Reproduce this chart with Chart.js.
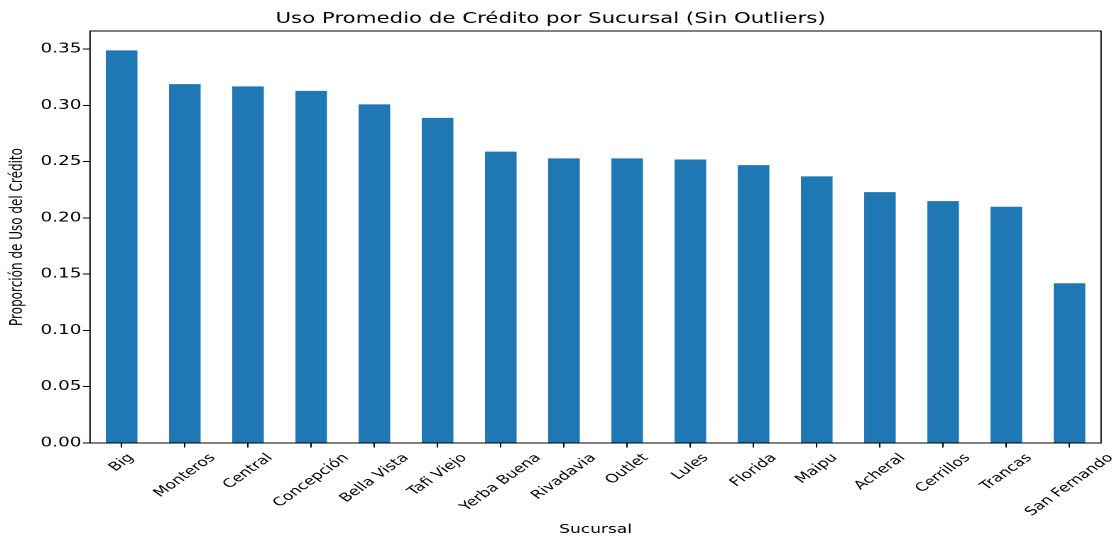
<!DOCTYPE html>
<html>
<head>
<meta charset="utf-8">
<title>Uso Promedio de Crédito por Sucursal</title>
<script src="https://cdn.jsdelivr.net/npm/chart.js"></script>
<style>
    html, body { margin: 0; padding: 0; background: #fff; overflow: hidden; }
    /* the reference is stretched sideways, so the chart is drawn narrow and widened */
    #wrap { position: absolute; left: 0; top: 0; width: 788px; height: 538px; transform: scaleX(1.42005); transform-origin: 0 0; }
</style>
</head>
<body>
<div id="wrap"><canvas id="graph"></canvas></div>
<script>
const sucursales = ["Big", "Monteros", "Central", "Concepción", "Bella Vista", "Tafi Viejo", "Yerba Buena", "Rivadavia",
    "Outlet", "Lules", "Florida", "Maipu", "Acheral", "Cerrillos", "Trancas", "San Fernando"];
const usoCredito = [0.349, 0.319, 0.317, 0.313, 0.301, 0.289, 0.259, 0.253,
    0.253, 0.252, 0.247, 0.237, 0.223, 0.215, 0.210, 0.142];
const yTicks = [0.00, 0.05, 0.10, 0.15, 0.20, 0.25, 0.30, 0.35];

const font = "DejaVu Sans";
const blue = "#1f77b4";
const ink = "#000";

// matplotlib style rotated labels, centred under each tick
const rotatedLabels = {
    id: "rotatedLabels",
    afterDraw(chart)
    {
        const ctx = chart.ctx;
        const x = chart.scales.x;
        ctx.save();
        ctx.font = "12px '" + font + "'";
        ctx.fillStyle = ink;
        ctx.textAlign = "center";
        ctx.textBaseline = "middle";
        const top = x.top + 8;
        for (let i = 0; i < sucursales.length; i++)
        {
            let w = ctx.measureText(sucursales[i]).width;
            let h = 14;
            let cy = top + (w + h) * Math.SQRT1_2 / 2;
            ctx.save();
            ctx.translate(x.getPixelForValue(i), cy);
            ctx.rotate(-Math.PI / 4);
            ctx.fillText(sucursales[i], 0, 0);
            ctx.restore();
        }
        ctx.restore();
    }
};

// box round the plot, all four sides
const frame = {
    id: "frame",
    afterDatasetsDraw(chart)
    {
        const a = chart.chartArea;
        const ctx = chart.ctx;
        ctx.save();
        ctx.strokeStyle = "#000";
        ctx.lineWidth = 1;
        ctx.strokeRect(a.left, a.top, a.right - a.left, a.bottom - a.top);
        ctx.restore();
    }
};

new Chart(document.getElementById("graph"), {
    type: "bar",
    data: {
        labels: sucursales,
        datasets: [
            {
                label: "Proporción de Uso del Crédito",
                data: usoCredito,
                backgroundColor: blue,
                borderWidth: 0,
                categoryPercentage: 1.0,
                barPercentage: 0.5
            }
        ]
    },
    options: {
        responsive: true,
        maintainAspectRatio: false,
        devicePixelRatio: 2,
        animation: false,
        layout: { padding: { left: 0, right: 12.6, top: 0, bottom: 0 } },
        plugins: {
            legend: { display: false },
            tooltip: { enabled: false },
            title: {
                display: true,
                text: "Uso Promedio de Crédito por Sucursal (Sin Outliers)",
                color: ink,
                font: { family: font, size: 15, weight: "normal" },
                padding: { top: 10, bottom: 3 }
            }
        },
        scales: {
            x: {
                offset: true,
                grid: { display: true, drawOnChartArea: false, drawTicks: true, tickLength: 4.5, offset: false, color: "#000" },
                border: { display: false },
                ticks: { display: false },
                title: {
                    display: true,
                    text: "Sucursal",
                    color: ink,
                    font: { family: font, size: 12 },
                    padding: { top: 0, bottom: 1 }
                },
                afterFit(scale) { scale.height = 95; }
            },
            y: {
                min: 0,
                max: 0.3662,
                grid: { display: true, drawOnChartArea: false, drawTicks: true, tickLength: 5, color: "#000" },
                border: { display: false },
                afterBuildTicks(scale) { scale.ticks = yTicks.map(v => ({ value: v })); },
                ticks: {
                    includeBounds: false,
                    padding: 1,
                    color: ink,
                    font: { family: font, size: 13 },
                    callback: (v) => Number(v).toFixed(2)
                },
                title: {
                    display: true,
                    text: "Proporción de Uso del Crédito",
                    color: ink,
                    font: { family: font, size: 12 },
                    padding: { top: 5, bottom: 0 }
                },
                afterFit(scale) { scale.width = 63.4; }
            }
        }
    },
    plugins: [rotatedLabels, frame]
});
</script>
</body>
</html>
